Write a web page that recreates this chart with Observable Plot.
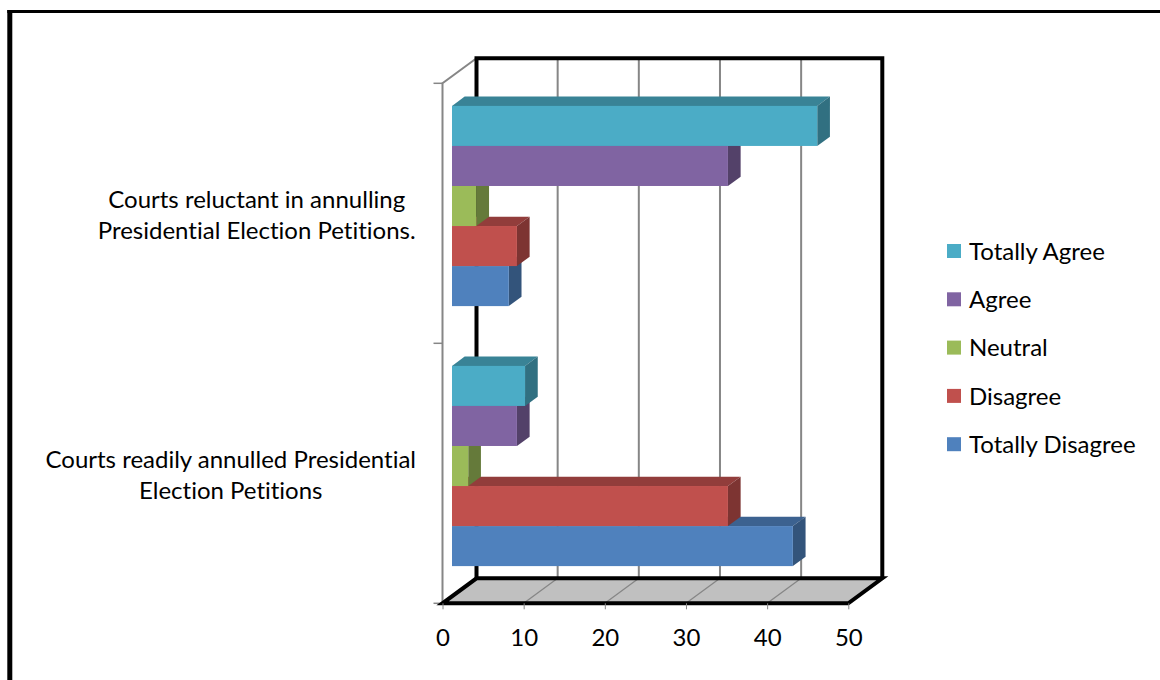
<!DOCTYPE html>
<html>
<head>
<meta charset="utf-8">
<script src="https://cdn.jsdelivr.net/npm/d3@7"></script>
<script src="https://cdn.jsdelivr.net/npm/@observablehq/plot@0.6"></script>
<style>
  html, body { margin: 0; padding: 0; background: #fff; }
  #chart svg { display: block; }
  #chart svg text { font-variant-ligatures: none; font-feature-settings: "liga" 0; }
</style>
</head>
<body>
<div id="chart"></div>
<script>
// Survey responses for two statements about presidential election petitions
const categories = [
  "Courts reluctant in annulling\nPresidential Election Petitions.",
  "Courts readily annulled Presidential\nElection Petitions"
];
const series = ["Totally Agree", "Agree", "Neutral", "Disagree", "Totally Disagree"];
const colors = ["#4BACC6", "#8064A2", "#9BBB59", "#C0504D", "#4F81BD"];

const totallyAgree    = [45, 9];
const agree           = [34, 8];
const neutral         = [3, 2];
const disagree        = [8, 34];
const totallyDisagree = [7, 42];
const seriesValues = [totallyAgree, agree, neutral, disagree, totallyDisagree];

const xTicks = [0, 10, 20, 30, 40, 50];

// ---- layout ----
const W = 1160, H = 680;
const M = {top: 83.3, right: 311.7, bottom: 76.7, left: 442.5};
const FONT = "Lato, 'Open Sans', sans-serif";
const FS = 24;
const DEPTH = [34, -25];          // offset from the front plane to the back wall
const FRONT = [9.5, -7];          // bars' front faces sit slightly behind the front plane
const BAR_DEPTH = [12.7, -9.3];   // depth of each bar
const bandH = (H - M.bottom - M.top) / categories.length;
const barH = bandH * 0.77 / series.length;
const gapTop = (bandH - barH * series.length) / 2;
const GRID = "#868686";

const shade = (c, k) => { const r = d3.rgb(c); return d3.rgb(r.r * k, r.g * k, r.b * k).formatHex(); };

// page border
const border = (index, scales, values, dims) => {
  const g = d3.create("svg:g");
  g.append("line").attr("x1", 9.8).attr("x2", 9.8).attr("y1", 10).attr("y2", dims.height)
    .attr("stroke", "#000").attr("stroke-width", 5);
  g.append("line").attr("x1", 7.3).attr("x2", dims.width).attr("y1", 11.5).attr("y2", 11.5)
    .attr("stroke", "#000").attr("stroke-width", 3);
  return g.node();
};

// floor, back wall, side wall and their gridlines
const walls = (index, scales, values, dims) => {
  const g = d3.create("svg:g");
  const x = scales.x;
  const xl = x(0), xr = x(xTicks[xTicks.length - 1]);
  const yt = dims.marginTop, yb = dims.height - dims.marginBottom;
  const [dx, dy] = DEPTH;

  // side wall
  g.append("path").attr("d", `M${xl},${yb}V${yt}L${xl + dx},${yt + dy}`)
    .attr("fill", "none").attr("stroke", GRID).attr("stroke-width", 2);
  // category boundary ticks
  for (let k = 0; k <= categories.length; k++) {
    const y = yt + k * bandH;
    g.append("line").attr("x1", xl - 9).attr("x2", xl).attr("y1", y).attr("y2", y)
      .attr("stroke", GRID).attr("stroke-width", 1.5);
  }
  // back wall gridlines
  for (const v of xTicks.slice(1, -1)) {
    g.append("line").attr("x1", x(v) + dx).attr("x2", x(v) + dx)
      .attr("y1", yt + dy).attr("y2", yb + dy)
      .attr("stroke", GRID).attr("stroke-width", 2);
  }
  // back wall outline
  g.append("path").attr("d", `M${xl + dx},${yb + dy}V${yt + dy}H${xr + dx}V${yb + dy}`)
    .attr("fill", "none").attr("stroke", "#000").attr("stroke-width", 4);
  // floor
  g.append("path")
    .attr("d", `M${xl},${yb}H${xr}L${xr + dx},${yb + dy}H${xl + dx}Z`)
    .attr("fill", "#C0C0C0").attr("stroke", "none");
  for (const v of xTicks.slice(1, -1)) {
    g.append("line").attr("x1", x(v)).attr("x2", x(v) + dx)
      .attr("y1", yb).attr("y2", yb + dy)
      .attr("stroke", GRID).attr("stroke-width", 1.3);
  }
  g.append("path")
    .attr("d", `M${xl},${yb}H${xr}L${xr + dx},${yb + dy}H${xl + dx}Z`)
    .attr("fill", "none").attr("stroke", "#000").attr("stroke-width", 4)
    .attr("stroke-linejoin", "miter");
  return g.node();
};

// top and right faces of one series' bars
const sideFaces = (rows, i) => (index, scales) => {
  const g = d3.create("svg:g");
  const [bx, by] = BAR_DEPTH;
  const base = scales.color(series[i]);
  for (const r of rows) {
    const x0 = scales.x(0) + FRONT[0];
    const x1 = scales.x(r.value) + FRONT[0];
    const y0 = scales.y(r.category) + gapTop + i * barH + FRONT[1];
    const y1 = y0 + barH;
    g.append("path").attr("d", `M${x0},${y0}H${x1}L${x1 + bx},${y0 + by}H${x0 + bx}Z`)
      .attr("fill", shade(base, 0.76));
    g.append("path").attr("d", `M${x1},${y0}L${x1 + bx},${y0 + by}V${y1 + by}L${x1},${y1}Z`)
      .attr("fill", shade(base, 0.65));
  }
  return g.node();
};

// legend at the right
const legend = (index, scales) => {
  const g = d3.create("svg:g").attr("text-anchor", "start");
  series.forEach((s, i) => {
    const cy = 251 + i * 48.3;
    g.append("rect").attr("x", 947).attr("y", cy - 7).attr("width", 14).attr("height", 14)
      .attr("fill", scales.color(s));
    g.append("text").attr("x", 969).attr("y", cy).attr("dy", "0.36em")
      .attr("text-anchor", "start").attr("fill", "#000").text(s);
  });
  return g.node();
};

// category labels: lines centred within a block right-aligned to the wall
const ctx = document.createElement("canvas").getContext("2d");
ctx.font = `${FS}px ${FONT}`;
const labelMarks = categories.map(c => {
  const w = d3.max(c.split("\n"), l => ctx.measureText(l).width);
  const centre = -26.5 - w / 2;
  return Plot.text([c], {
    y: d => d, text: d => d, frameAnchor: "left", dx: centre,
    textAnchor: "middle", lineHeight: 1.32, fill: "#000"
  });
});

const marks = [border, walls];
for (let i = series.length - 1; i >= 0; i--) {
  const rows = categories.map((c, k) => ({category: c, value: seriesValues[i][k]}));
  marks.push(sideFaces(rows, i));
  marks.push(Plot.barX(rows, {
    x: "value", y: "category", fill: () => series[i],
    insetTop: gapTop + i * barH,
    insetBottom: bandH - gapTop - (i + 1) * barH,
    dx: FRONT[0], dy: FRONT[1]
  }));
}
marks.push(Plot.axisX({ticks: xTicks, tickSize: 6, tickPadding: 19, stroke: GRID, fill: "#000",
  tickFormat: d => d, label: null}));
marks.push(...labelMarks);
marks.push(legend);

const chart = Plot.plot({
  width: W, height: H,
  marginTop: M.top, marginRight: M.right, marginBottom: M.bottom, marginLeft: M.left,
  style: {fontFamily: FONT, fontSize: `${FS}px`, background: "#fff", color: "#000", overflow: "visible"},
  x: {domain: [0, 50], axis: null},
  y: {type: "band", domain: categories, padding: 0, axis: null},
  color: {domain: series, range: colors},
  marks
});
document.getElementById("chart").append(chart);
</script>
</body>
</html>
